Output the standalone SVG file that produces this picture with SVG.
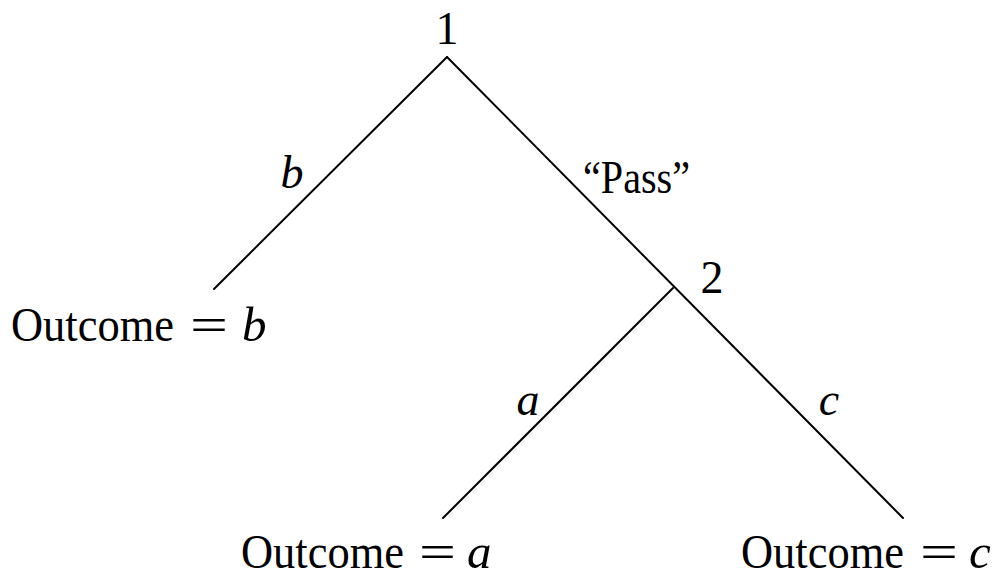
<svg xmlns="http://www.w3.org/2000/svg" width="993" height="579" viewBox="0 0 993 579">
<style>
.t{font-family:"Liberation Serif","DejaVu Serif",serif;fill:#000;font-size:46px}
.o{font-size:49px}
.i{font-style:italic}
.e{stroke:#000;stroke-width:2;fill:none;stroke-linecap:round}
</style>
<rect width="993" height="579" fill="#fff"/>
<g id="connectors">
<line class="e" x1="447" y1="57" x2="214" y2="289"/>
<line class="e" x1="447" y1="57" x2="903" y2="518"/>
<line class="e" x1="673" y1="288" x2="443" y2="518"/>
</g>
<g id="node1"><text class="t" x="447" y="44" text-anchor="middle">1</text></g>
<g id="node2"><text class="t" x="712" y="293" text-anchor="middle">2</text></g>
<g id="leafB">
<text class="t o" x="11" y="341" textLength="163" lengthAdjust="spacingAndGlyphs">Outcome</text>
<text class="t o" x="190" y="341" textLength="38" lengthAdjust="spacingAndGlyphs">=</text>
<text class="t o i" x="242" y="341">b</text>
</g>
<g id="leafA">
<text class="t o" x="241" y="568" textLength="163" lengthAdjust="spacingAndGlyphs">Outcome</text>
<text class="t o" x="419" y="568" textLength="37" lengthAdjust="spacingAndGlyphs">=</text>
<text class="t o i" x="467" y="568">a</text>
</g>
<g id="leafC">
<text class="t o" x="741" y="568" textLength="163" lengthAdjust="spacingAndGlyphs">Outcome</text>
<text class="t o" x="920" y="568" textLength="38" lengthAdjust="spacingAndGlyphs">=</text>
<text class="t o i" x="969" y="568">c</text>
</g>
<g id="labels">
<text class="t i" x="292" y="188" text-anchor="middle">b</text>
<text class="t" x="583" y="193" textLength="107" lengthAdjust="spacingAndGlyphs">“Pass”</text>
<text class="t i" x="528" y="415" text-anchor="middle">a</text>
<text class="t i" x="829" y="415" text-anchor="middle">c</text>
</g>
</svg>
